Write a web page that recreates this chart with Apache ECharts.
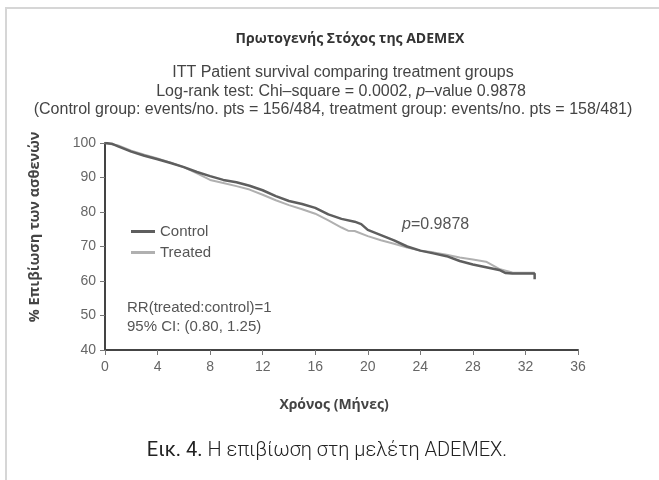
<!DOCTYPE html>
<html><head><meta charset="utf-8">
<script src="https://cdn.jsdelivr.net/npm/echarts@6/dist/echarts.min.js"></script>
<style>html,body{margin:0;padding:0;background:#fff}#c{width:659px;height:480px}</style>
</head><body><div id="c"></div>
<script>
const controlT = [0,0.5,1,2,3,4,5,6,7,8,9,10,11,12,13,14,15,16,17,18,19,19.5,20,21,22,23,24,25,26,27,28,29,30,30.5,31,32,32.7,32.7];
const controlS = [100,99.8,99,97.5,96.3,95.3,94.2,93,91.6,90.4,89.3,88.6,87.6,86.3,84.6,83.2,82.3,81.2,79.3,78,77.2,76.5,74.8,73.3,71.8,70,68.8,68,67.2,65.8,64.8,64,63.2,62.3,62.2,62.2,62.2,60.5];
const treatedT = [0,1,2,3,4,5,6,7,8,9,10,11,12,13,14,15,16,17,18,18.5,19,20,21,22,23,24,25,26,27,28,29,30,31,32,32.7];
const treatedS = [100,99.3,97.8,96.6,95.5,94.3,93,91.2,89.3,88.4,87.5,86.5,85,83.4,82,80.8,79.5,77.6,75.5,74.6,74.5,73,71.8,70.8,69.7,68.8,68.3,67.6,66.8,66.2,65.6,63.5,62.5,62.4,62.4];

const chart = echarts.init(document.getElementById('c'));
const pair = (t, s) => t.map((v, i) => [v, s[i]]);
const font = '"Liberation Sans", Arial, sans-serif';
const sub = ['ITT Patient survival comparing treatment groups',
  'Log-rank test: Chi\u2013square = 0.0002, {i|p}\u2013value 0.9878',
  '(Control group: events/no. pts = 156/484, treatment group: events/no. pts = 158/481)'];
chart.setOption({
  backgroundColor: '#fff',
  animation: false,
  legend: {
    orient: 'vertical', left: 126, top: 219, itemWidth: 24, itemHeight: 3, itemGap: 6,
    icon: 'rect',
    textStyle: {fontFamily: font, fontSize: 15, color: '#555'},
    data: ['Control', 'Treated']
  },
  grid: {left: 105, right: 81, top: 143, bottom: 130},
  xAxis: {
    type: 'value', min: 0, max: 36, interval: 4,
    axisLine: {lineStyle: {color: '#444', width: 2}},
    axisTick: {show: true, length: 5, lineStyle: {color: '#777'}},
    axisLabel: {fontFamily: font, fontSize: 14, color: '#666', margin: 10},
    splitLine: {show: false}
  },
  yAxis: {
    type: 'value', min: 40, max: 100, interval: 10,
    axisLine: {show: true, lineStyle: {color: '#444', width: 2}},
    axisTick: {show: true, length: 5, lineStyle: {color: '#777'}},
    axisLabel: {fontFamily: font, fontSize: 14, color: '#666', margin: 9},
    splitLine: {show: false}
  },
  series: [
    {name: 'Treated', type: 'line', showSymbol: false, symbol: 'none',
     data: pair(treatedT, treatedS), lineStyle: {color: '#b0b0b0', width: 2}, itemStyle: {color: '#b0b0b0'}, z: 2},
    {name: 'Control', type: 'line', showSymbol: false, symbol: 'none',
     data: pair(controlT, controlS), lineStyle: {color: '#5e5e5e', width: 2.5}, itemStyle: {color: '#5e5e5e'}, z: 3}
  ],
  graphic: [
    {type: 'rect', z: -10, silent: true, shape: {x: 6, y: 8, width: 660, height: 480}, style: {fill: 'none', stroke: '#d6d6d6', lineWidth: 2}},
    {type: 'text', x: 350, y: 39, style: {text: 'Πρωτογενής Στόχος της ADEMEX', align: 'center', verticalAlign: 'middle',
      fontFamily: '"Open Sans", sans-serif', fontSize: 14, fontWeight: 'bold', fill: '#333'}},
    {type: 'text', x: 343, y: 73, style: {text: sub[0], align: 'center', verticalAlign: 'middle', fontFamily: font, fontSize: 16, fill: '#444'}},
    {type: 'text', x: 341, y: 92, style: {text: sub[1], align: 'center', verticalAlign: 'middle', fontFamily: font, fontSize: 16, fill: '#444',
      rich: {i: {fontStyle: 'italic', fontFamily: font, fontSize: 16, fill: '#444'}}}},
    {type: 'text', x: 333, y: 110, style: {text: sub[2], align: 'center', verticalAlign: 'middle', fontFamily: font, fontSize: 16, fill: '#444'}},
    {type: 'text', x: 35, y: 227, rotation: Math.PI / 2, style: {text: '% Επιβίωση των ασθενών', align: 'center', verticalAlign: 'middle',
      fontFamily: '"Open Sans", sans-serif', fontSize: 14.5, fontWeight: 'bold', fill: '#444'}},
    {type: 'text', x: 334, y: 405, style: {text: 'Χρόνος (Μήνες)', align: 'center', verticalAlign: 'middle',
      fontFamily: '"Open Sans", sans-serif', fontSize: 14, fontWeight: 'bold', fill: '#444'}},
    {type: 'text', x: 402, y: 225, style: {text: '{i|p}=0.9878', verticalAlign: 'middle', fontFamily: font, fontSize: 16, fill: '#555',
      rich: {i: {fontStyle: 'italic', fontFamily: font, fontSize: 16, fill: '#555'}}}},
    {type: 'text', x: 127, y: 308, style: {text: 'RR(treated:control)=1', verticalAlign: 'middle', fontFamily: font, fontSize: 15, fill: '#555'}},
    {type: 'text', x: 127, y: 327, style: {text: '95% CI: (0.80, 1.25)', verticalAlign: 'middle', fontFamily: font, fontSize: 15, fill: '#555'}},
    {type: 'text', x: 327, y: 451, style: {text: '{b|Εικ. 4.} Η επιβίωση στη μελέτη ADEMEX.', align: 'center', verticalAlign: 'middle',
      fontFamily: 'Roboto, sans-serif', fontSize: 20, fontWeight: 300, fill: '#222',
      rich: {b: {fontFamily: 'Roboto, sans-serif', fontSize: 20, fontWeight: 'normal', fill: '#222'}}}}
  ]
});
</script></body></html>
